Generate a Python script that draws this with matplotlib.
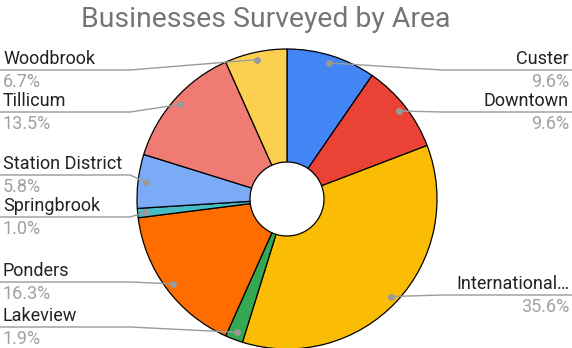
import numpy as np
import matplotlib.pyplot as plt

plt.rcParams['font.family'] = ['Roboto', 'DejaVu Sans']

areas = ["Custer", "Downtown", "International…", "Lakeview", "Ponders",
         "Springbrook", "Station District", "Tillicum", "Woodbrook"]
shares = [9.6, 9.6, 35.6, 1.9, 16.3, 1.0, 5.8, 13.5, 6.7]
colors = ["#4285F4", "#EA4335", "#FBBC04", "#34A853", "#FF6D01",
          "#46BDC6", "#7BAAF7", "#F07B72", "#FCD04F"]

# where each label sits: side of the chart and its underline row (px from top)
label_side = ["right", "right", "right", "left", "left",
              "left", "left", "left", "left"]
label_row = [70, 112, 295, 327, 282, 217, 175, 112, 70]

W, H = 572, 348
fig = plt.figure(figsize=(W / 100, H / 100), dpi=100)
ax = fig.add_axes([0, 0, 1, 1])

cx, cy, R, hole = 287, H - 199, 150, 37
wedges, _ = ax.pie(shares, colors=colors, startangle=90, counterclock=False,
                   radius=R, center=(cx, cy),
                   wedgeprops=dict(width=R - hole, edgecolor="black", linewidth=0.9))
ax.set_xlim(0, W)
ax.set_ylim(0, H)
ax.set_aspect("equal")
ax.axis("off")

ax.text(266, H - 27, "Businesses Surveyed by Area", ha="center", va="baseline",
        fontsize=20.4, color="#757575")

for w, name, pct, side, row in zip(wedges, areas, shares, label_side, label_row):
    mid = np.deg2rad((w.theta1 + w.theta2) / 2)
    px = cx + 0.95 * R * np.cos(mid)
    py = cy + 0.95 * R * np.sin(mid)
    ly = H - row
    if side == "left":
        xs, tx, ha = [0, 130, px], 3, "left"
    else:
        xs, tx, ha = [W, 442, px], W - 3, "right"
    ax.plot(xs, [ly, ly, py], color="#9a9a9a", lw=1.0, zorder=3,
            solid_capstyle="butt")
    ax.plot(px, py, "o", ms=5, color="#9a9a9a", mec="none", zorder=4)
    ax.text(tx, ly + 6, name, ha=ha, va="baseline", fontsize=13, color="#222222")
    ax.text(tx, ly - 17, f"{pct:.1f}%", ha=ha, va="baseline", fontsize=13,
            color="#a0a0a0")

fig.savefig("out.png", dpi=100)
